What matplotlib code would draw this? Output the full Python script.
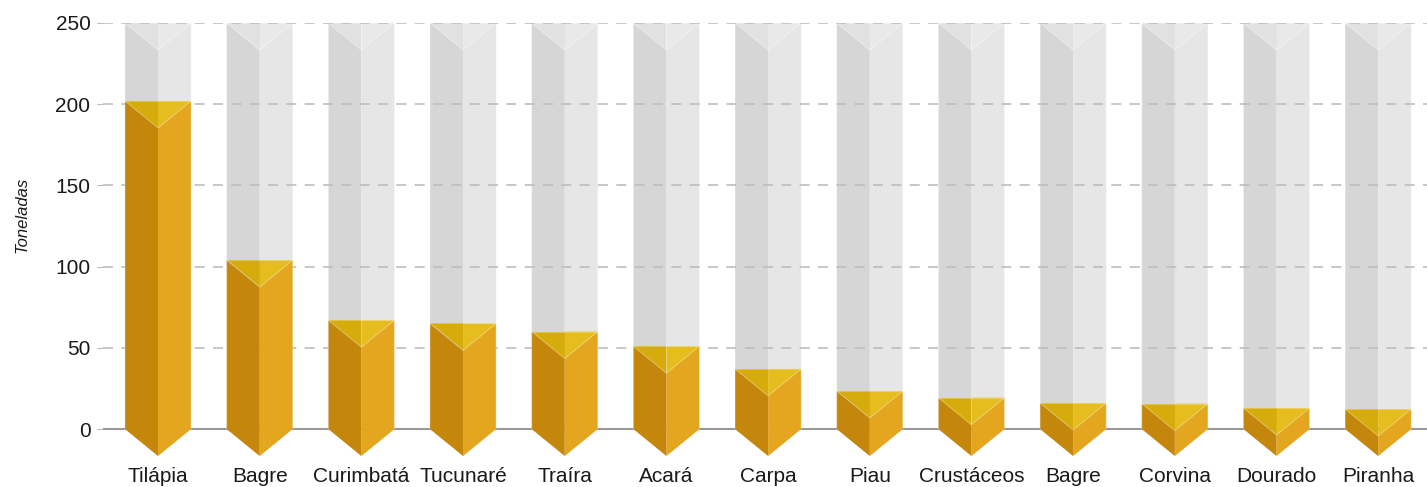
import matplotlib as mpl
mpl.use("Agg")
import matplotlib.pyplot as plt
import numpy as np

plt.rcParams['font.family'] = ['Liberation Sans Narrow', 'Liberation Sans', 'DejaVu Sans']

categories = ['Tilápia', 'Bagre', 'Curimbatá', 'Tucunaré', 'Traíra', 'Acará', 'Carpa',
              'Piau', 'Crustáceos', 'Bagre', 'Corvina', 'Dourado', 'Piranha']
values = [202, 104, 67, 65, 60, 51, 37, 23.4, 19.3, 16, 15.6, 12.9, 12.3]
y_max = 250
y_ticks = [0, 50, 100, 150, 200, 250]

half = 0.325   # half bar width (x units)
depth = 16.6   # depth of the V ridge (y units)


def prism(ax, x, v, colors, z):
    # colors: left face, right face, top-left, top-right
    L, C, R = x - half, x, x + half
    ax.fill([L, C, C, L], [v, v - depth, -depth, 0], color=colors[0], lw=0, zorder=z)
    ax.fill([R, C, C, R], [v, v - depth, -depth, 0], color=colors[1], lw=0, zorder=z)
    ax.fill([L, C, C], [v, v, v - depth], color=colors[2], lw=0, zorder=z + 0.1)
    ax.fill([C, R, C], [v, v, v - depth], color=colors[3], lw=0, zorder=z + 0.1)
    # faint light outline
    ax.plot([L, L, C, R, R], [0, v, v - depth, v, 0], color='white', alpha=0.25,
            lw=0.8, zorder=z + 0.2)
    ax.plot([L, R], [v, v], color='white', alpha=0.25, lw=0.8, zorder=z + 0.2)


def draw_chart():
    W, H = 1427, 487
    fig = plt.figure(figsize=(W / 100, H / 100), dpi=100)
    # axes in pixel terms: left 103, right 1427, y=250 at px 23, y=-20 at px 461.5
    ax = fig.add_axes([103 / W, 1 - 461.5 / H, (1427 - 103) / W, (461.5 - 23) / H])
    ax.set_xlim(-0.541, 12.48)
    ax.set_ylim(-20, 250)

    gray = ['#d6d6d6', '#e6e6e6', '#e1e1e1', '#e9e9e9']
    gold = ['#c4870c', '#e4a61e', '#d6ac0c', '#e6bd1e']
    x = np.arange(len(categories))
    for xi, v in zip(x, values):
        prism(ax, xi, y_max, gray, 1)
        prism(ax, xi, v, gold, 3)

    for t in y_ticks[1:]:
        ax.axhline(t, color='#bdbdbd', lw=1.2, ls=(0, (6, 5)), zorder=2)
    ax.axhline(0, color='#999999', lw=1.5, zorder=2.5)

    for s in ax.spines.values():
        s.set_visible(False)
    ax.set_yticks(y_ticks)
    ax.set_yticklabels([str(t) for t in y_ticks], fontsize=15, color='#1a1a1a')
    ax.tick_params(axis='y', length=4, color='#bbbbbb', pad=5)
    ax.set_xticks(x)
    ax.set_xticklabels(categories, fontsize=15, color='#1a1a1a')
    ax.tick_params(axis='x', length=0, pad=4)
    fig.text(22 / W, 1 - 215 / H, 'Toneladas', rotation=90, style='italic',
             fontsize=12, color='#1a1a1a', ha='center', va='center')
    fig.savefig('out.png', dpi=100)


if __name__ == '__main__':
    draw_chart()
